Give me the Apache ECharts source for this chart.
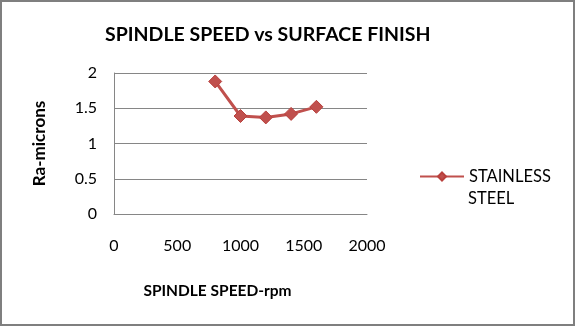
<!DOCTYPE html>
<html>
<head>
<meta charset="utf-8">
<script src="https://cdn.jsdelivr.net/npm/echarts@6/dist/echarts.min.js"></script>
<style>
  html, body { margin: 0; padding: 0; background: #fff; }
  #chart { width: 575px; height: 326px; }
</style>
</head>
<body>
<div id="chart"></div>
<script>
// Spindle speed (rpm) against surface roughness Ra (microns)
var spindleSpeed = [800, 1000, 1200, 1400, 1600];
var raMicrons = [1.88, 1.39, 1.37, 1.42, 1.52];
var seriesName = 'STAINLESS STEEL';
var legendLines = ['STAINLESS', 'STEEL'];
var xTicks = { min: 0, max: 2000, interval: 500 };
var yTicks = { min: 0, max: 2, interval: 0.5 };

var font = 'Lato, "Open Sans", sans-serif';
var legendFont = { fontFamily: font, fontSize: 16.5, fill: '#000' };
var chart = echarts.init(document.getElementById('chart'));
chart.setOption({
  backgroundColor: '#fff',
  animation: false,
  title: {
    text: 'SPINDLE SPEED vs SURFACE FINISH',
    left: 100,
    top: 20,
    textStyle: { fontFamily: font, fontWeight: 'bold', fontSize: 19.5, color: '#000' }
  },
  graphic: [{
    type: 'rect',
    shape: { x: 1, y: 1, width: 573, height: 324 },
    style: { fill: 'none', stroke: '#7f7f7f', lineWidth: 2 },
    silent: true
  }, {
    // second line of the wrapped legend label
    type: 'text',
    left: 468,
    top: 190,
    style: Object.assign({ text: legendLines[1] }, legendFont),
    silent: true
  }],
  grid: { left: 114, right: 208, top: 73, bottom: 112 },
  legend: {
    left: 414,
    top: 163,
    itemWidth: 44,
    itemHeight: 10,
    itemGap: 6,
    data: [seriesName],
    formatter: function () { return legendLines[0]; },
    textStyle: { fontFamily: font, fontSize: 16.5, color: '#000' }
  },
  xAxis: {
    type: 'value',
    min: xTicks.min, max: xTicks.max, interval: xTicks.interval,
    name: 'SPINDLE SPEED-rpm',
    nameLocation: 'middle',
    nameGap: 69,
    nameTextStyle: { fontFamily: font, fontWeight: 'bold', fontSize: 15.5, color: '#000', padding: [0, 46, 0, 0] },
    axisLine: { show: true, lineStyle: { color: '#868686', width: 1 } },
    axisTick: { show: false },
    splitLine: { show: false },
    axisLabel: {
      margin: 24, fontFamily: font, fontSize: 16, color: '#000',
      formatter: function (v) { return String(v); }
    }
  },
  yAxis: {
    type: 'value',
    min: yTicks.min, max: yTicks.max, interval: yTicks.interval,
    name: 'Ra-microns',
    nameLocation: 'middle',
    nameGap: 66,
    nameRotate: 90,
    nameTextStyle: { fontFamily: font, fontWeight: 'bold', fontSize: 17, color: '#000' },
    axisLine: { show: true, lineStyle: { color: '#868686', width: 1 } },
    axisTick: { show: false },
    splitLine: { show: true, lineStyle: { color: '#868686', width: 1 } },
    axisLabel: {
      margin: 17, fontFamily: font, fontSize: 16, color: '#000',
      formatter: function (v) { return String(v); }
    }
  },
  series: [{
    name: seriesName,
    type: 'line',
    data: spindleSpeed.map(function (s, i) { return [s, raMicrons[i]]; }),
    symbol: 'diamond',
    symbolSize: 13,
    lineStyle: { color: '#c0504d', width: 3 },
    itemStyle: { color: '#c0504d', borderColor: '#b9403c', borderWidth: 1 }
  }]
});
</script>
</body>
</html>
